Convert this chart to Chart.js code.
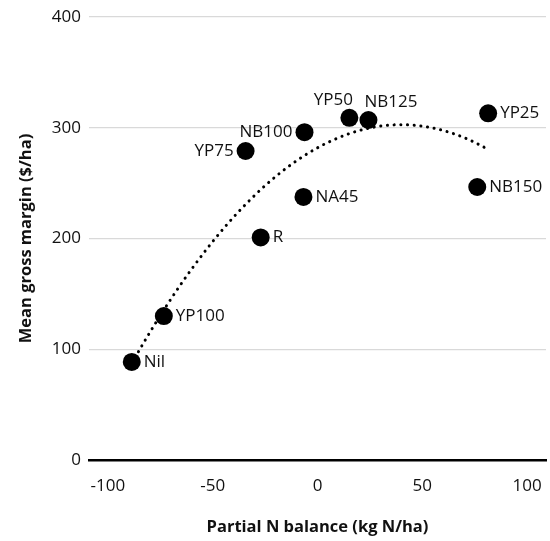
<!DOCTYPE html>
<html><head><meta charset="utf-8">
<script src="https://cdn.jsdelivr.net/npm/chart.js@4"></script>
<style>html,body{margin:0;padding:0;background:#fff}#wrap{width:550px;height:541px;position:relative}</style>
</head><body><div id="wrap"><canvas id="c"></canvas></div>
<script>
const treatments = ['Nil','YP100','YP75','R','NB100','NA45','YP50','NB125','YP25','NB150'];
const nBalance = [-88.6,-73.3,-34.3,-27.1,-6.2,-6.7,15.2,24.3,81.4,76.2];
const grossMargin = [88.5,130,279,201,296,237.5,309,307,313,246.5];
const xTicks = [-100,-50,0,50,100];
const yTicks = [0,100,200,300,400];
const labelPlacement = {Nil:'right',YP100:'right',YP75:'left',R:'right',NB100:'left',NA45:'right',YP50:'above',NB125:'aboveRight',YP25:'right',NB150:'right'};

// Polynomial (order 2) least-squares trendline computed from the data
function quadFit(xs, ys){
  const S = [0,0,0,0,0], T = [0,0,0];
  xs.forEach((x,i)=>{ let p=1; for(let k=0;k<5;k++){S[k]+=p; p*=x;} T[0]+=ys[i]; T[1]+=ys[i]*x; T[2]+=ys[i]*x*x; });
  const A = [[S[0],S[1],S[2],T[0]],[S[1],S[2],S[3],T[1]],[S[2],S[3],S[4],T[2]]];
  for(let c=0;c<3;c++){ for(let r=c+1;r<3;r++){ const f=A[r][c]/A[c][c]; for(let k=c;k<4;k++) A[r][k]-=f*A[c][k]; } }
  const b=[0,0,0];
  for(let r=2;r>=0;r--){ let s=A[r][3]; for(let k=r+1;k<3;k++) s-=A[r][k]*b[k]; b[r]=s/A[r][r]; }
  return b;
}
const coef = quadFit(nBalance, grossMargin);
const xMin = Math.min(...nBalance), xMax = Math.max(...nBalance);
const trend = [];
for(let i=0;i<=80;i++){ const x = xMin + (xMax-xMin)*i/80; trend.push({x, y: coef[0]+coef[1]*x+coef[2]*x*x}); }

const FONT = "'Open Sans', 'DejaVu Sans', sans-serif";
const labelPlugin = {
  id:'pointLabels',
  afterDatasetsDraw(chart){
    const meta = chart.getDatasetMeta(1);
    const ctx = chart.ctx;
    ctx.save();
    ctx.font = "17px " + FONT;
    ctx.fillStyle = '#111';
    meta.data.forEach((pt,i)=>{
      const name = treatments[i], pl = labelPlacement[name];
      let x = pt.x, y = pt.y;
      if(pl==='right'){ ctx.textAlign='left'; ctx.textBaseline='middle'; x += 12; }
      else if(pl==='left'){ ctx.textAlign='right'; ctx.textBaseline='middle'; x -= 12; }
      else if(pl==='above'){ ctx.textAlign='center'; ctx.textBaseline='bottom'; x -= 16; y -= 9; }
      else if(pl==='aboveRight'){ ctx.textAlign='left'; ctx.textBaseline='bottom'; x -= 4; y -= 9; }
      ctx.fillText(name, x, y);
    });
    ctx.restore();
  }
};

new Chart(document.getElementById('c'), {
  type:'scatter',
  data:{
    datasets:[
      { type:'line', data: trend, borderColor:'#000', borderWidth:3, borderDash:[0.1,6.6], borderCapStyle:'round', pointRadius:0, fill:false, tension:0, order:2 },
      { data: nBalance.map((x,i)=>({x, y: grossMargin[i]})), pointRadius:9, pointHoverRadius:9, backgroundColor:'#000', borderWidth:0, order:1 }
    ]
  },
  options:{
    responsive:true, maintainAspectRatio:false, animation:false,
    layout:{ autoPadding:false, padding:{ top:17, right:4, left:0, bottom:0 } },
    plugins:{ legend:{display:false}, tooltip:{enabled:false} },
    scales:{
      x:{ type:'linear', min:-109, max:109,
        afterBuildTicks(s){ s.ticks = xTicks.map(v=>({value:v})); },
        afterFit(s){ s.height = 81; s.paddingLeft = 0; s.paddingRight = 0; },
        grid:{ display:false, drawTicks:false },
        border:{ display:true, color:'#000', width:2.5 },
        ticks:{ padding:16, font:{family:FONT, size:17}, color:'#111', maxRotation:0 },
        title:{ display:true, text:'Partial N balance (kg N/ha)', font:{family:FONT, size:16.5, weight:'bold'}, color:'#111', padding:{top:0,bottom:4} }
      },
      y:{ min:0, max:400,
        afterBuildTicks(s){ s.ticks = yTicks.map(v=>({value:v})); },
        afterFit(s){ s.width = 89; s.paddingTop = 0; s.paddingBottom = 0; },
        grid:{ color:'#d9d9d9', lineWidth:1.3, drawTicks:false },
        border:{ display:false },
        ticks:{ padding:8, font:{family:FONT, size:17}, color:'#111' },
        title:{ display:true, text:'Mean gross margin ($/ha)', font:{family:FONT, size:16.5, weight:'bold'}, color:'#111', padding:{top:16,bottom:0} }
      }
    }
  },
  plugins:[labelPlugin]
});
</script></body></html>
